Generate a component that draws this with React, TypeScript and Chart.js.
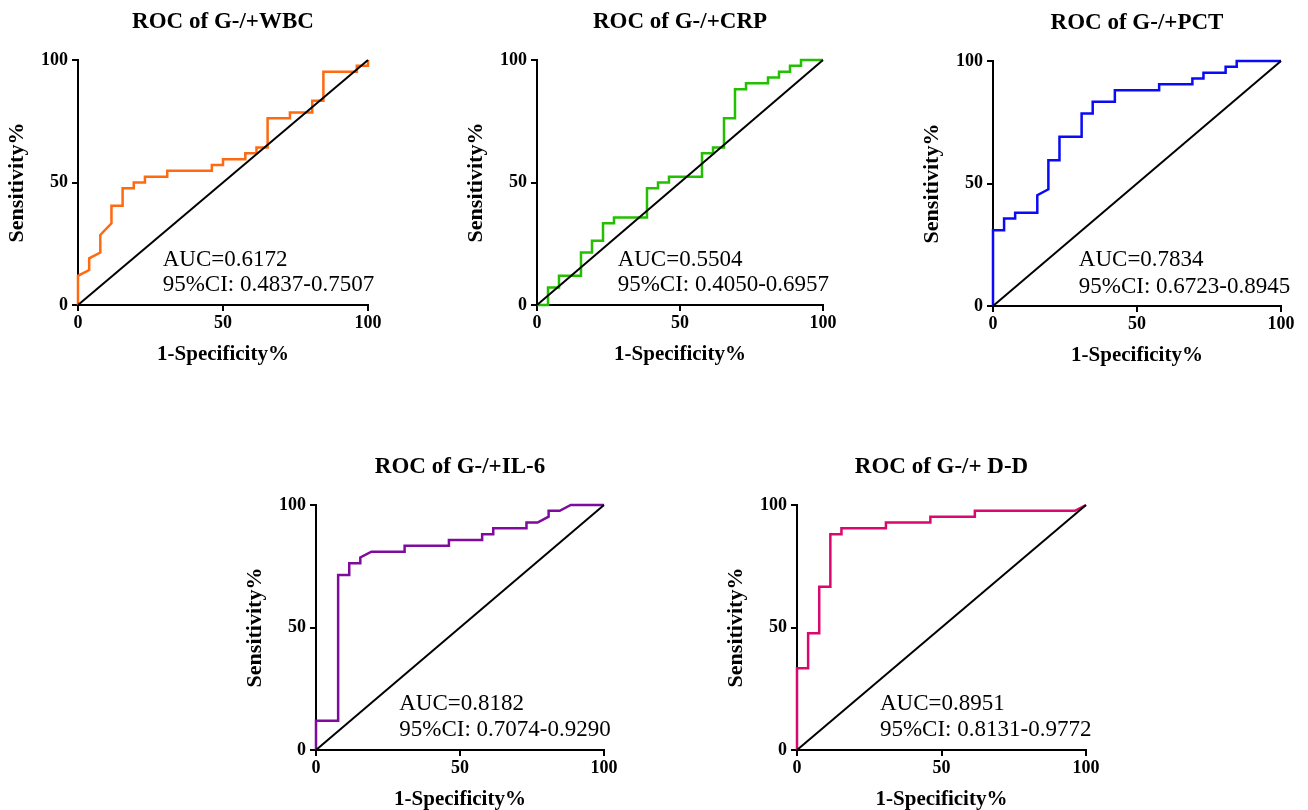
import React, { useEffect, useRef } from "react";
import { Chart, registerables } from "chart.js";

Chart.register(...registerables);

// ---- shared axis data ----
const tickValues = [0, 50, 100];
const xAxisTitle = "1-Specificity%";
const yAxisTitle = "Sensitivity%";
const refLineX = [0, 100];
const refLineY = [0, 100];

// ---- ROC curves (1-Specificity %, Sensitivity %) ----
const wbcFpr = [0, 0, 3.85, 3.85, 7.69, 7.69, 11.54, 11.54, 15.38, 15.38, 19.23, 19.23, 23.08, 23.08, 30.77, 30.77, 46.15, 46.15, 50, 50, 57.69, 57.69, 61.54, 61.54, 65.38, 65.38, 73.08, 73.08, 80.77, 80.77, 84.62, 84.62, 96.15, 96.15, 100, 100];
const wbcTpr = [0, 11.9, 14.29, 19.05, 21.43, 28.57, 33.33, 40.48, 40.48, 47.62, 47.62, 50, 50, 52.38, 52.38, 54.76, 54.76, 57.14, 57.14, 59.52, 59.52, 61.9, 61.9, 64.29, 64.29, 76.19, 76.19, 78.57, 78.57, 83.33, 83.33, 95.24, 95.24, 97.62, 97.62, 100];

const crpFpr = [0, 3.85, 3.85, 7.69, 7.69, 15.38, 15.38, 19.23, 19.23, 23.08, 23.08, 26.92, 26.92, 38.46, 38.46, 42.31, 42.31, 46.15, 46.15, 57.69, 57.69, 61.54, 61.54, 65.38, 65.38, 69.23, 69.23, 73.08, 73.08, 80.77, 80.77, 84.62, 84.62, 88.46, 88.46, 92.31, 92.31, 100];
const crpTpr = [0, 0, 7.14, 7.14, 11.9, 11.9, 21.43, 21.43, 26.19, 26.19, 33.33, 33.33, 35.71, 35.71, 47.62, 47.62, 50, 50, 52.38, 52.38, 61.9, 61.9, 64.29, 64.29, 76.19, 76.19, 88.1, 88.1, 90.48, 90.48, 92.86, 92.86, 95.24, 95.24, 97.62, 97.62, 100, 100];

const pctFpr = [0, 0, 3.85, 3.85, 7.69, 7.69, 15.38, 15.38, 19.23, 19.23, 23.08, 23.08, 30.77, 30.77, 34.62, 34.62, 42.31, 42.31, 57.69, 57.69, 69.23, 69.23, 73.08, 73.08, 80.77, 80.77, 84.62, 84.62, 100];
const pctTpr = [0, 30.95, 30.95, 35.71, 35.71, 38.1, 38.1, 45.24, 47.62, 59.52, 59.52, 69.05, 69.05, 78.57, 78.57, 83.33, 83.33, 88.1, 88.1, 90.48, 90.48, 92.86, 92.86, 95.24, 95.24, 97.62, 97.62, 100, 100];

const il6Fpr = [0, 0, 7.69, 7.69, 11.54, 11.54, 15.38, 15.38, 19.23, 30.77, 30.77, 46.15, 46.15, 57.69, 57.69, 61.54, 61.54, 73.08, 73.08, 76.92, 80.77, 80.77, 84.62, 88.46, 100];
const il6Tpr = [0, 11.9, 11.9, 71.43, 71.43, 76.19, 76.19, 78.57, 80.95, 80.95, 83.33, 83.33, 85.71, 85.71, 88.1, 88.1, 90.48, 90.48, 92.86, 92.86, 95.24, 97.62, 97.62, 100, 100];

const ddFpr = [0, 0, 3.85, 3.85, 7.69, 7.69, 11.54, 11.54, 15.38, 15.38, 30.77, 30.77, 46.15, 46.15, 61.54, 61.54, 96.15, 100];
const ddTpr = [0, 33.33, 33.33, 47.62, 47.62, 66.67, 66.67, 88.1, 88.1, 90.48, 90.48, 92.86, 92.86, 95.24, 95.24, 97.62, 97.62, 100];

// ---- labels ----
const panelTitles = ["ROC of G-/+WBC", "ROC of G-/+CRP", "ROC of G-/+PCT", "ROC of G-/+IL-6", "ROC of G-/+ D-D"];
const aucLabels = ["AUC=0.6172", "AUC=0.5504", "AUC=0.7834", "AUC=0.8182", "AUC=0.8951"];
const ciLabels = ["95%CI: 0.4837-0.7507", "95%CI: 0.4050-0.6957", "95%CI: 0.6723-0.8945", "95%CI: 0.7074-0.9290", "95%CI: 0.8131-0.9772"];
const curveColors = ["#FF6A10", "#22C000", "#0A0AF5", "#7E0A9E", "#D8086E"];

// ---- layout (plot area of each panel in page pixels) ----
const panels = [
  { fpr: wbcFpr, tpr: wbcTpr, left: 78, top: 60, w: 290, h: 245, textX: 29.2, textY1: 15.9, textY2: 5.8 },
  { fpr: crpFpr, tpr: crpTpr, left: 537, top: 60, w: 286, h: 245, textX: 28.2, textY1: 15.9, textY2: 5.8 },
  { fpr: pctFpr, tpr: pctTpr, left: 993, top: 61, w: 288, h: 245, textX: 29.8, textY1: 16.3, textY2: 5.4 },
  { fpr: il6Fpr, tpr: il6Tpr, left: 316, top: 505, w: 288, h: 245, textX: 28.9, textY1: 16.3, textY2: 5.8 },
  { fpr: ddFpr, tpr: ddTpr, left: 797, top: 505, w: 289, h: 245, textX: 28.7, textY1: 16.3, textY2: 5.8 },
];

const LEFT_M = 80;
const TOP_M = 60;
const RIGHT_M = 26;
const BOTTOM_M = 62;
const FONT = '"Liberation Serif", "Times New Roman", serif';

const textPlugin = {
  id: "rocText",
  afterDraw(chart: any, _args: any, opts: any) {
    const { ctx, chartArea, scales } = chart;
    ctx.save();
    ctx.fillStyle = "#000";
    ctx.font = `bold 23px ${FONT}`;
    ctx.textAlign = "center";
    ctx.textBaseline = "middle";
    ctx.fillText(opts.title, (chartArea.left + chartArea.right) / 2, chartArea.top - 38);
    ctx.font = `23px ${FONT}`;
    ctx.textAlign = "left";
    ctx.textBaseline = "alphabetic";
    const x = scales.x.getPixelForValue(opts.textX);
    ctx.fillText(opts.auc, x, scales.y.getPixelForValue(opts.textY1));
    ctx.fillText(opts.ci, x, scales.y.getPixelForValue(opts.textY2));
    ctx.restore();
  },
};

function Panel({ idx }: { idx: number }) {
  const ref = useRef<HTMLCanvasElement | null>(null);
  const p = panels[idx];
  const width = p.w + LEFT_M + RIGHT_M;
  const height = p.h + TOP_M + BOTTOM_M;

  useEffect(() => {
    if (!ref.current) return;
    const axisCommon = (titleText: string, isY: boolean) => ({
      type: "linear" as const,
      min: 0,
      max: 100,
      afterBuildTicks: (scale: any) => {
        scale.ticks = tickValues.map((v) => ({ value: v }));
      },
      afterFit: (scale: any) => {
        if (isY) scale.width = LEFT_M;
        else scale.height = BOTTOM_M;
      },
      grid: {
        display: true,
        drawOnChartArea: false,
        drawTicks: true,
        tickLength: 6,
        color: "#000",
        lineWidth: 2,
      },
      border: { display: true, color: "#000", width: 2 },
      ticks: {
        color: "#000",
        padding: isY ? 4 : 2,
        maxRotation: 0,
        font: { family: FONT, size: 18, weight: "bold" as const },
      },
      title: {
        display: true,
        text: titleText,
        color: "#000",
        font: { family: FONT, size: isY ? 22 : 21, weight: "bold" as const },
        padding: isY ? { top: 6, bottom: 0 } : { top: 0, bottom: 0 },
      },
    });

    const chart = new Chart(ref.current, {
      type: "scatter",
      data: {
        datasets: [
          {
            data: refLineX.map((x, i) => ({ x, y: refLineY[i] })),
            showLine: true,
            borderColor: "#000",
            borderWidth: 2,
            pointRadius: 0,
            clip: 6,
          } as any,
          {
            data: p.fpr.map((x, i) => ({ x, y: p.tpr[i] })),
            showLine: true,
            borderColor: curveColors[idx],
            borderWidth: 2.5,
            pointRadius: 0,
            clip: 6,
          } as any,
        ],
      },
      options: {
        responsive: false,
        animation: false,
        layout: { padding: { left: 0, top: TOP_M, right: RIGHT_M, bottom: 0 } },
        plugins: {
          legend: { display: false },
          tooltip: { enabled: false },
          rocText: {
            title: panelTitles[idx],
            auc: aucLabels[idx],
            ci: ciLabels[idx],
            textX: p.textX,
            textY1: p.textY1,
            textY2: p.textY2,
          },
        } as any,
        scales: {
          x: axisCommon(xAxisTitle, false) as any,
          y: axisCommon(yAxisTitle, true) as any,
        },
      },
      plugins: [textPlugin],
    });
    return () => chart.destroy();
  }, [idx]);

  return (
    <div
      style={{
        position: "absolute",
        left: p.left - LEFT_M,
        top: p.top - TOP_M,
        width,
        height,
      }}
    >
      <canvas ref={ref} width={width} height={height} style={{ width, height, display: "block" }} />
    </div>
  );
}

export default function App() {
  return (
    <div
      style={{
        position: "fixed",
        left: 0,
        top: 0,
        width: 1308,
        height: 810,
        background: "#fff",
        overflow: "hidden",
      }}
    >
      {panels.map((_, i) => (
        <Panel key={i} idx={i} />
      ))}
    </div>
  );
}
